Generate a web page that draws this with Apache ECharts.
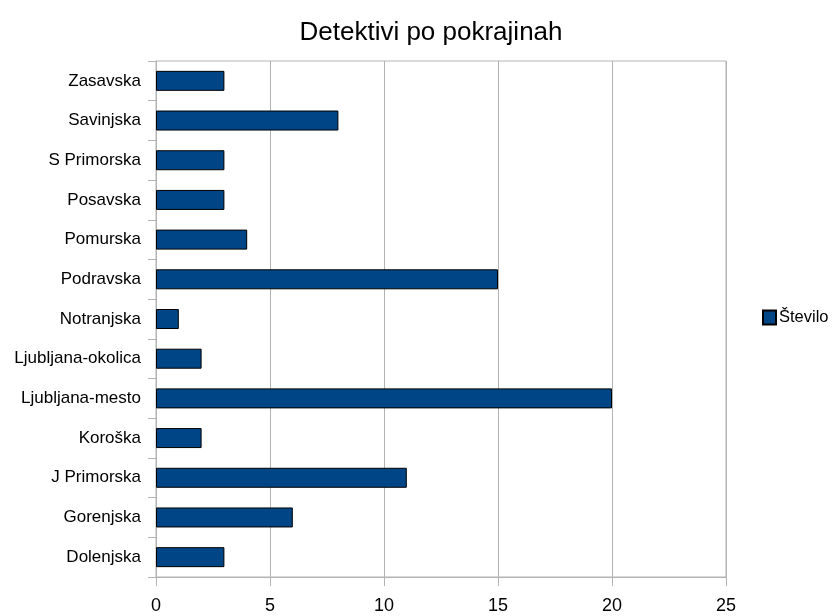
<!DOCTYPE html>
<html>
<head>
<meta charset="utf-8">
<script src="https://cdn.jsdelivr.net/npm/echarts@6/dist/echarts.min.js"></script>
<style>
  html, body { margin: 0; padding: 0; background: #fff; }
  #chart { width: 837px; height: 616px; }
</style>
</head>
<body>
<div id="chart"></div>
<script>
// podatki (od spodaj navzgor, kot na osi)
var categories = ['Dolenjska', 'Gorenjska', 'J Primorska', 'Koroška', 'Ljubljana-mesto',
    'Ljubljana-okolica', 'Notranjska', 'Podravska', 'Pomurska', 'Posavska',
    'S Primorska', 'Savinjska', 'Zasavska'];
var stevilo = [3, 6, 11, 2, 20, 2, 1, 15, 4, 3, 3, 8, 3];
var xTicks = [0, 25, 5]; // min, max, interval

var font = '"Liberation Sans", Arial, sans-serif';
var gray = '#b3b3b3';

var myChart = echarts.init(document.getElementById('chart'));
myChart.setOption({
    animation: false,
    title: {
        text: 'Detektivi po pokrajinah',
        left: 426,
        textAlign: 'center',
        top: 15,
        textStyle: { fontFamily: font, fontSize: 26, fontWeight: 'normal', color: '#000' }
    },
    legend: {
        data: ['Število'],
        orient: 'vertical',
        left: 757,
        top: 304,
        itemWidth: 13,
        itemHeight: 14,
        itemGap: 5,
        icon: 'rect',
        textStyle: { fontFamily: font, fontSize: 16.5, color: '#000', padding: [0, 0, 0, -2] }
    },
    grid: {
        left: 156, right: 111, top: 61, bottom: 39,
        show: true, borderColor: gray, borderWidth: 1, backgroundColor: 'transparent'
    },
    xAxis: {
        type: 'value',
        min: xTicks[0],
        max: xTicks[1],
        interval: xTicks[2],
        axisLine: { show: true, lineStyle: { color: gray } },
        axisTick: { show: true, length: 9, lineStyle: { color: gray } },
        splitLine: { show: true, lineStyle: { color: gray, width: 1 } },
        axisLabel: { fontFamily: font, fontSize: 18, color: '#000', margin: 20 }
    },
    yAxis: {
        type: 'category',
        data: categories,
        axisLine: { show: true, lineStyle: { color: gray } },
        axisTick: { show: true, length: 8, alignWithLabel: false, lineStyle: { color: gray } },
        splitLine: { show: false },
        axisLabel: { fontFamily: font, fontSize: 17, color: '#000', margin: 15 }
    },
    series: [{
        name: 'Število',
        type: 'bar',
        data: stevilo,
        barWidth: 20,
        itemStyle: { color: '#004586', borderColor: '#000', borderWidth: 1 }
    }]
});
</script>
</body>
</html>
